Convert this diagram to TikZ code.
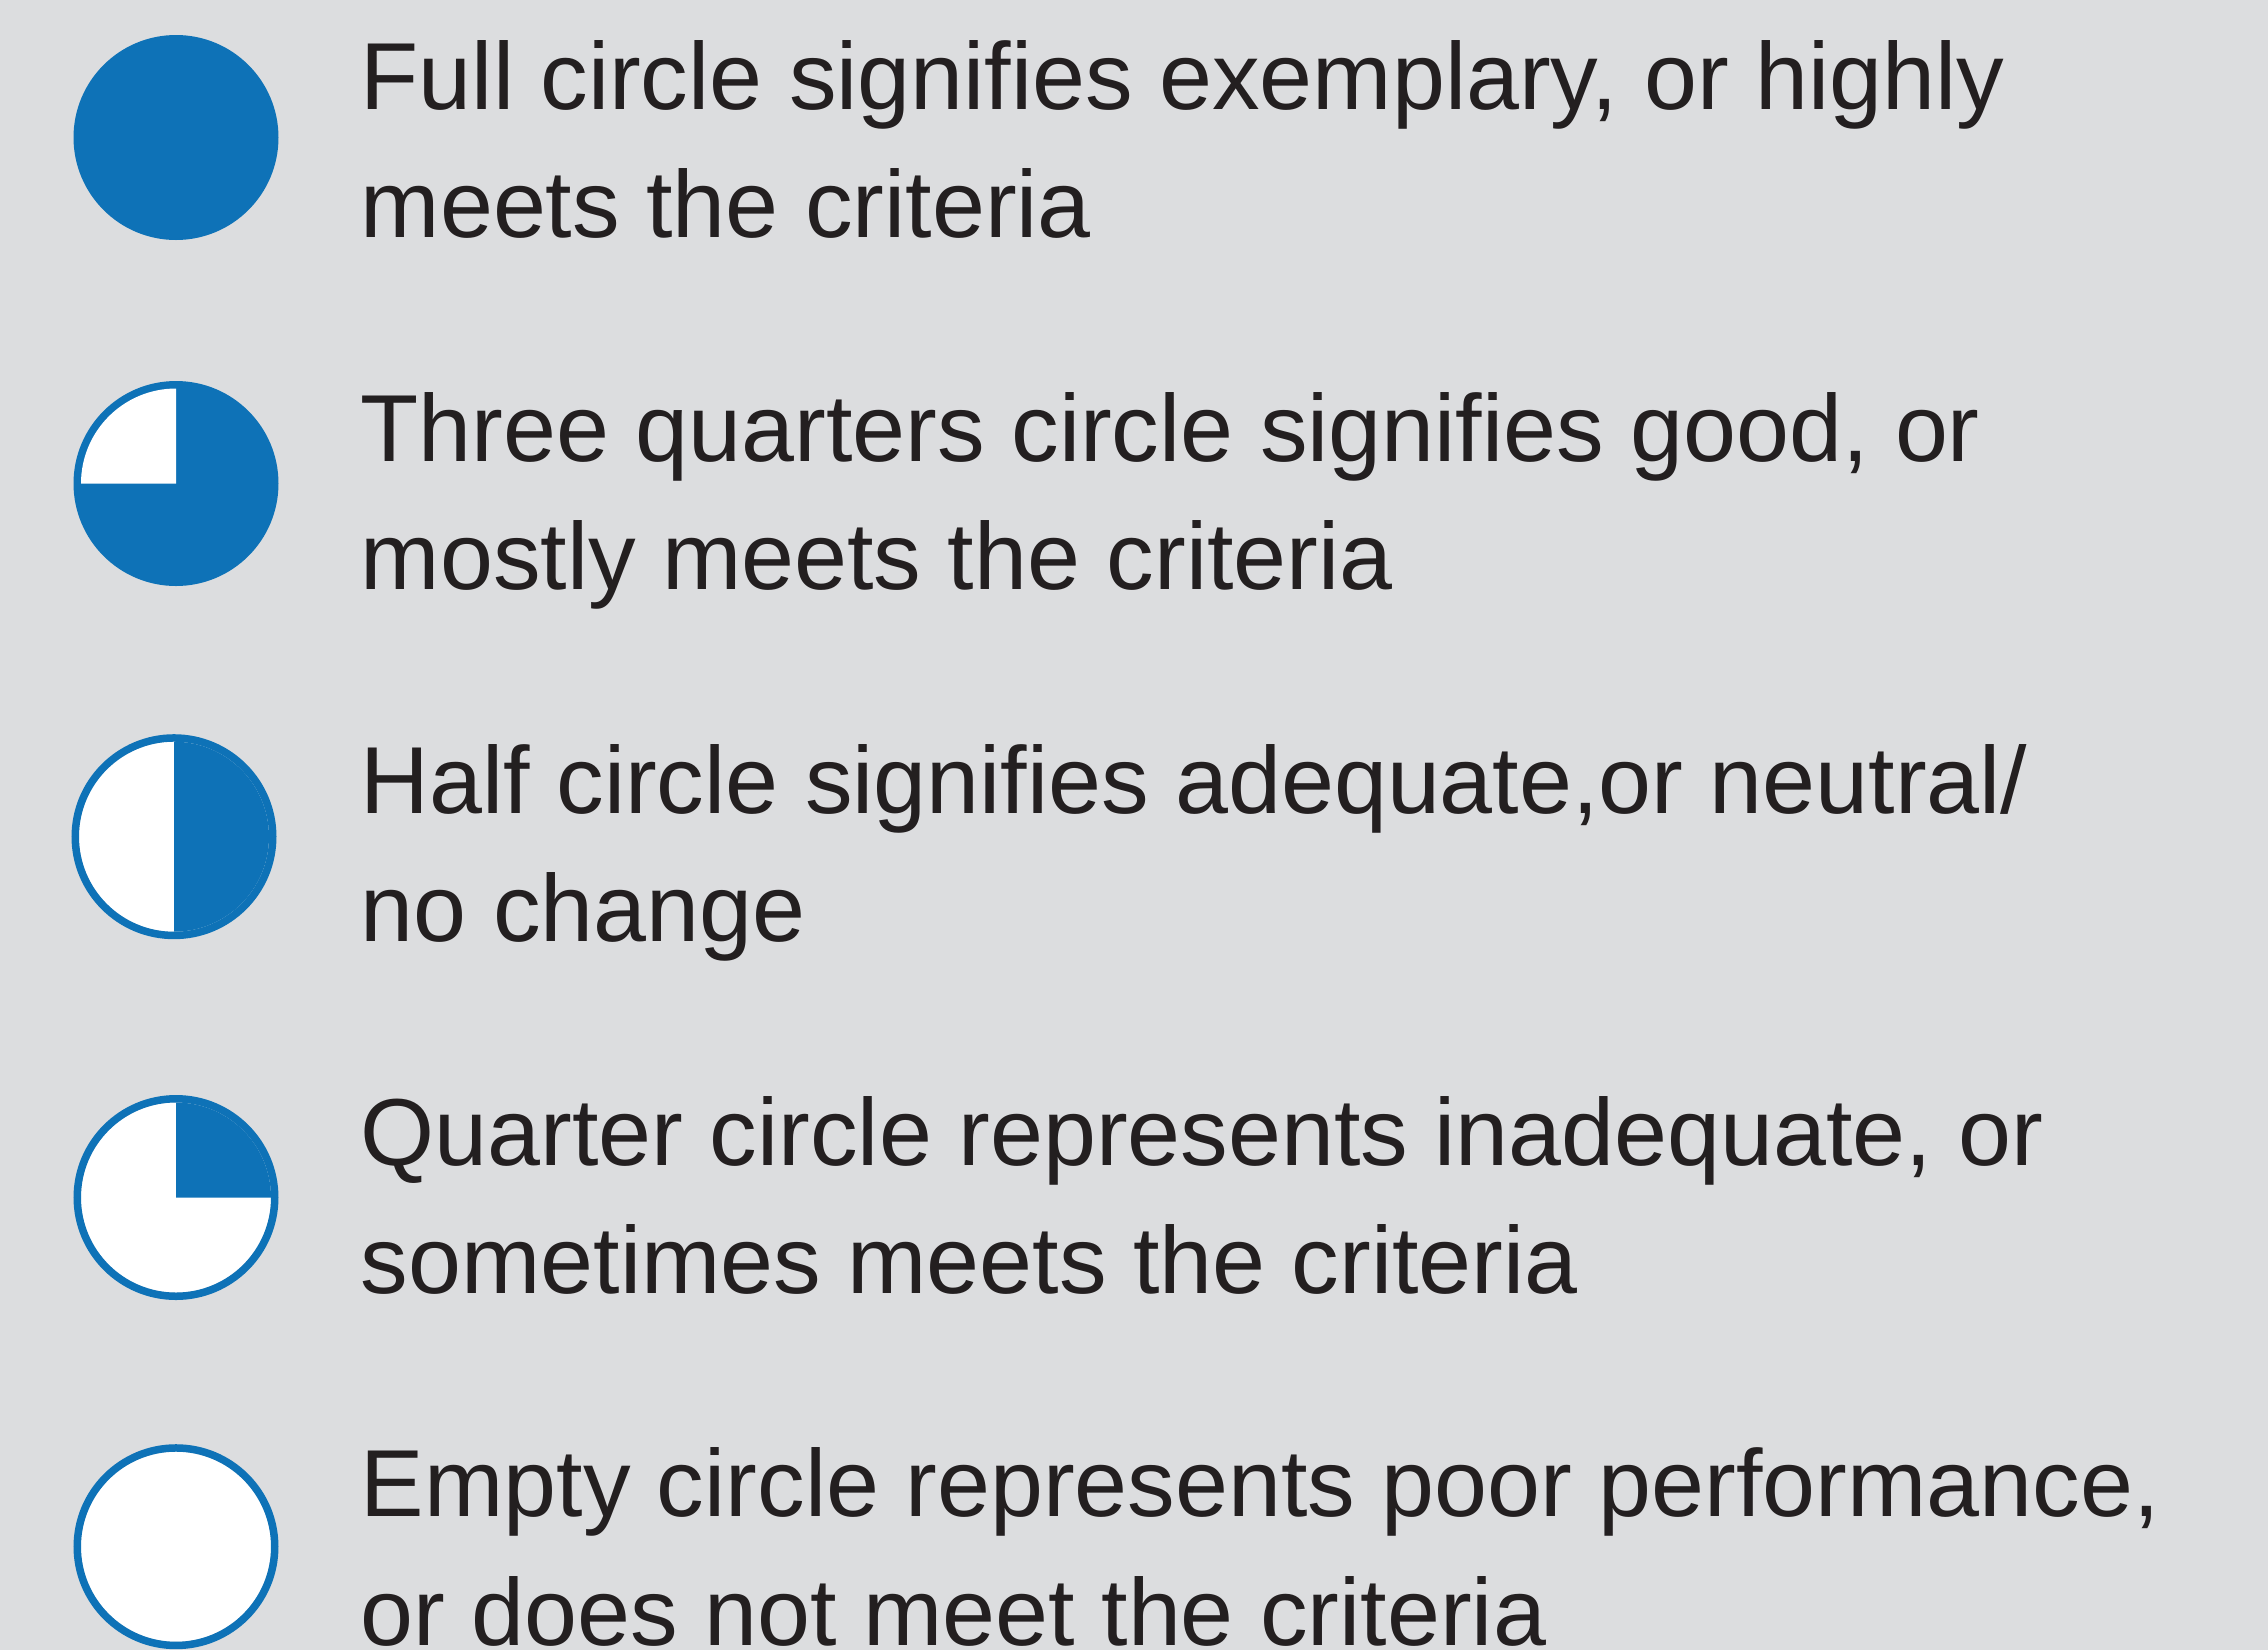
\documentclass[tikz,border=0pt]{standalone}
\usepackage{fontspec}
\setmainfont{Liberation Sans}
\definecolor{bg}{HTML}{DCDDDF}
\definecolor{lblue}{HTML}{0E72B7}
\definecolor{ink}{HTML}{231F20}
\begin{document}
\begin{tikzpicture}[x=0.25pt,y=0.25pt,
  lbl/.style={anchor=base west,inner sep=0pt,text=ink,font=\fontsize{23.8pt}{32pt}\selectfont},
  ring/.style={draw=lblue,line width=1.875pt},
  dot/.style={fill=lblue}]
\fill[bg] (0,0) rectangle (2268,-1650);
\useasboundingbox (0,0) rectangle (2268,-1650);
% centres
\coordinate (c1) at (176,-137.5);
\coordinate (c2) at (176,-483.5);
\coordinate (c3) at (174,-836.7);
\coordinate (c4) at (176,-1197.5);
\coordinate (c5) at (176,-1546.7);
% row 1: full
\fill[dot] (c1) circle[radius=102.5];
% row 2: three quarters
\fill[dot] (c2) circle[radius=102.5];
\fill[white] (c2) -- ++(180:95) arc[start angle=180,end angle=90,radius=95] -- cycle;
% row 3: half
\fill[white] (c3) circle[radius=95];
\fill[dot] (c3) -- ++(90:95) arc[start angle=90,end angle=-90,radius=95] -- cycle;
\draw[ring] (c3) circle[radius=98.75];
% row 4: quarter
\fill[white] (c4) circle[radius=95];
\fill[dot] (c4) -- ++(0:95) arc[start angle=0,end angle=90,radius=95] -- cycle;
\draw[ring] (c4) circle[radius=98.75];
% row 5: empty
\fill[white] (c5) circle[radius=95];
\draw[ring] (c5) circle[radius=98.75];
% labels
\node[lbl] (t1a) at (360,-109) {Full circle signifies exemplary, or highly};
\node[lbl] (t1b) at (360,-237.7) {meets the criteria};
\node[lbl] (t2a) at (360,-461) {Three quarters circle signifies good, or};
\node[lbl] (t2b) at (360,-589.3) {mostly meets the criteria};
\node[lbl] (t3a) at (360,-813.3) {Half circle signifies adequate,or neutral/};
\node[lbl] (t3b) at (360,-941) {no change};
\node[lbl] (t4a) at (360,-1165.3) {Quarter circle represents inadequate, or};
\node[lbl] (t4b) at (360,-1293.3) {sometimes meets the criteria};
\node[lbl] (t5a) at (360,-1516.7) {Empty circle represents poor performance,};
\node[lbl] (t5b) at (360,-1645) {or does not meet the criteria};
\end{tikzpicture}
\end{document}
